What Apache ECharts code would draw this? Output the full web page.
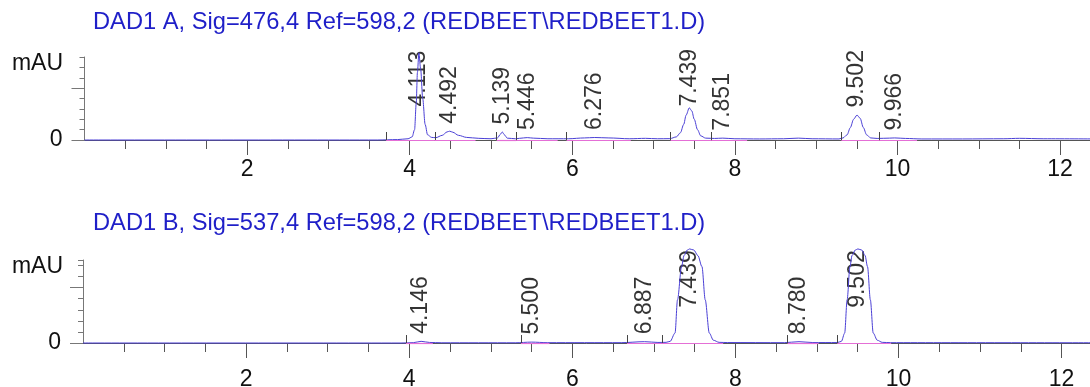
<!DOCTYPE html>
<html>
<head>
<meta charset="utf-8">
<script src="https://cdn.jsdelivr.net/npm/echarts@6/dist/echarts.min.js"></script>
<style>
  html, body { margin: 0; padding: 0; background: #ffffff; }
  #chart { width: 1090px; height: 387px; }
</style>
</head>
<body>
<div id="chart"></div>
<script>
// ---- signal titles and axis texts ----
const titleA = 'DAD1 A, Sig=476,4 Ref=598,2 (REDBEET\\REDBEET1.D)';
const titleB = 'DAD1 B, Sig=537,4 Ref=598,2 (REDBEET\\REDBEET1.D)';
const unitLabel = 'mAU';
const timeTickLabels = [2, 4, 6, 8, 10, 12];
const unitTickLabels = [0];

// ---- DAD1 A (476 nm): trace as [time min, mAU] ----
const traceA = [
  [0, 0], [3.6, 0], [3.85, 0.4], [3.98, 1.2], [4.03, 3], [4.06, 10], [4.08, 35],
  [4.095, 65], [4.113, 84], [4.135, 68], [4.16, 40], [4.19, 15], [4.22, 5],
  [4.27, 2.5], [4.32, 2.2], [4.4, 4.5], [4.46, 7.8], [4.492, 8.5], [4.53, 7.5],
  [4.6, 4.5], [4.7, 2.5], [4.85, 1.6], [5.0, 1.2], [5.08, 2], [5.115, 5.5],
  [5.139, 7.7], [5.165, 5], [5.2, 1.8], [5.3, 1.2], [5.4, 2], [5.446, 2.3],
  [5.52, 1.8], [5.7, 1.2], [5.95, 1.2], [6.15, 2], [6.276, 2.4], [6.45, 2],
  [6.7, 1.2], [6.9, 1.6], [7.05, 1.2], [7.2, 1.3], [7.28, 3], [7.33, 7],
  [7.37, 15], [7.40, 24], [7.439, 31], [7.47, 28], [7.50, 20], [7.54, 10],
  [7.58, 4], [7.64, 1.8], [7.75, 1.5], [7.851, 1.8], [8.0, 1.2], [8.3, 1.0],
  [8.6, 1.2], [8.78, 1.8], [8.95, 1.2], [9.28, 1], [9.33, 2], [9.38, 5],
  [9.42, 12], [9.46, 20], [9.502, 24], [9.54, 21], [9.58, 12], [9.62, 5],
  [9.67, 2], [9.75, 1.5], [9.9, 1.8], [9.966, 2], [10.1, 1.5], [10.3, 1.0],
  [10.8, 1.0], [11.3, 1.2], [11.5, 1.6], [11.8, 1.2], [12.5, 1.0]
];
const peaksA_rt     = [4.113, 4.492, 5.139, 5.446, 6.276, 7.439, 7.851, 9.502, 9.966];
const peaksA_height = [84, 8.5, 7.7, 2.3, 2.4, 31, 1.8, 24, 2];
const peaksA_start  = [3.71, 4.31, 5.07, 5.31, 5.93, 7.21, 7.71, 9.31, 9.78];
const peaksA_end    = [4.31, 4.81, 5.31, 5.82, 6.72, 7.71, 8.15, 9.78, 10.24];

// ---- DAD1 B (537 nm): trace as [time min, mAU] ----
const traceB = [
  [0, 0], [3.9, 0], [4.05, 0.3], [4.146, 1.5], [4.25, 0.5], [4.4, 0.2],
  [5.3, 0.2], [5.5, 0.8], [5.7, 0.3], [6.6, 0.3], [6.887, 1.2], [7.05, 0.5],
  [7.15, 0.6], [7.2, 1.5], [7.26, 9], [7.29, 39], [7.34, 69], [7.37, 79],
  [7.41, 84], [7.439, 85], [7.49, 84], [7.54, 79], [7.59, 69], [7.63, 39],
  [7.68, 9], [7.73, 2.5], [7.8, 0.6], [7.9, 0.4], [8.6, 0.3], [8.78, 1.2],
  [8.95, 0.4], [9.25, 0.4], [9.3, 1.5], [9.34, 9], [9.37, 39], [9.405, 69],
  [9.43, 79], [9.47, 84], [9.502, 85], [9.55, 84], [9.59, 79], [9.62, 69],
  [9.655, 39], [9.69, 9], [9.74, 2.5], [9.8, 0.6], [9.9, 0.3], [12.5, 0.2]
];
const peaksB_rt     = [4.146, 5.500, 6.887, 7.439, 8.780, 9.502];
const peaksB_height = [1.5, 0.8, 1.2, 85, 1.2, 85];
const peaksB_start  = [3.96, 5.37, 6.67, 7.10, 8.64, 9.25];
const peaksB_end    = [4.29, 5.72, 7.10, 7.85, 9.02, 9.91];

// ---- styling ----
const FONT = '"Liberation Sans", Arial, Helvetica, sans-serif';
const TRACE_COLOR = '#4a3fd6';
const BASE_COLOR = '#e46fd6';
const AXIS_COLOR = '#555555';
const TITLE_COLOR = '#1f1fc8';
const LABEL_CAP = 25;   // retention-time labels of tall peaks stop at this height
const X_MAX = 12.5;

const panels = [
  { trace: traceA, rt: peaksA_rt, h: peaksA_height, s: peaksA_start, e: peaksA_end,
    grid: { left: 84.5, width: X_MAX * 81.3, top: 57, height: 83, outerBoundsMode: 'none' },
    yMax: 80, xOffset: 4, labelMargin: 14, tickUp: 7.7, tickDown: 4.8 },
  { trace: traceB, rt: peaksB_rt, h: peaksB_height, s: peaksB_start, e: peaksB_end,
    grid: { left: 83, width: X_MAX * 81.55, top: 260, height: 83, outerBoundsMode: 'none' },
    yMax: 75, xOffset: 3, labelMargin: 22, tickUp: 7.2, tickDown: 4.5 }
];

const halfSteps = [];
for (let k = 1; k <= 25; k++) halfSteps.push(k * 0.5);

const grid = [], xAxis = [], yAxis = [], series = [];

panels.forEach((p, i) => {
  grid.push(p.grid);
  const xBase = { type: 'value', gridIndex: i, min: 0, max: X_MAX, position: 'bottom',
                  offset: p.xOffset, splitLine: { show: false } };
  // short ticks every 0.5 min, carries the axis line
  xAxis.push(Object.assign({}, xBase, {
    interval: 0.5,
    axisLine: { show: true, lineStyle: { color: AXIS_COLOR, width: 1 } },
    axisTick: { show: true, length: 9, customValues: halfSteps, lineStyle: { color: AXIS_COLOR } },
    axisLabel: { show: false }
  }));
  // long ticks and labels every 2 min
  xAxis.push(Object.assign({}, xBase, {
    interval: 2,
    axisLine: { show: false },
    axisTick: { show: true, length: 15, customValues: timeTickLabels, lineStyle: { color: AXIS_COLOR } },
    axisLabel: { show: true, customValues: timeTickLabels, margin: p.labelMargin,
                 fontSize: 23, fontFamily: FONT, color: '#111' }
  }));
  const yBase = { type: 'value', gridIndex: i, min: 0, max: p.yMax, position: 'left',
                  splitLine: { show: false } };
  yAxis.push(Object.assign({}, yBase, {
    interval: 10,
    axisLine: { show: true, lineStyle: { color: '#777', width: 1 } },
    axisTick: { show: true, length: 5, lineStyle: { color: '#777' } },
    axisLabel: { show: true, customValues: unitTickLabels, margin: 22,
                 fontSize: 23, fontFamily: FONT, color: '#111' }
  }));
  yAxis.push(Object.assign({}, yBase, {
    interval: 50,
    axisLine: { show: false },
    axisTick: { show: true, length: 13, customValues: [0, 50], lineStyle: { color: '#777' } },
    axisLabel: { show: false }
  }));

  // integration baseline segments and start / end tick marks
  const marks = [];
  p.s.forEach((s, k) => {
    marks.push([{ coord: [s, 0], lineStyle: { color: BASE_COLOR, width: 1.2, type: 'solid' } },
                { coord: [p.e[k], 0] }]);
  });
  p.s.forEach(s => {
    marks.push([{ coord: [s, 0], lineStyle: { color: '#444', width: 1, type: 'solid' } },
                { coord: [s, p.tickUp] }]);
  });
  p.e.forEach(e => {
    marks.push([{ coord: [e, 0], lineStyle: { color: '#444', width: 1, type: 'solid' } },
                { coord: [e, -p.tickDown] }]);
  });

  series.push({
    type: 'line', xAxisIndex: 2 * i, yAxisIndex: 2 * i, data: p.trace,
    showSymbol: false, smooth: 0.3, smoothMonotone: 'x', clip: false,
    lineStyle: { color: TRACE_COLOR, width: 1 },
    markLine: { silent: true, symbol: ['none', 'none'], label: { show: false },
                lineStyle: { type: 'solid' }, animation: false, data: marks }
  });

  // retention-time labels above each peak
  series.push({
    type: 'scatter', xAxisIndex: 2 * i, yAxisIndex: 2 * i, clip: false, silent: true,
    symbolSize: 1, itemStyle: { color: 'rgba(0,0,0,0)' },
    data: p.rt.map((rt, k) => [rt, Math.min(p.h[k], LABEL_CAP)]),
    label: { show: true, position: 'top', distance: 7, rotate: 90,
             align: 'left', verticalAlign: 'middle',
             formatter: d => d.value[0].toFixed(3),
             fontSize: 23, fontFamily: FONT, color: '#000' }
  });
});

const chart = echarts.init(document.getElementById('chart'), null, { renderer: 'canvas' });
chart.setOption({
  animation: false,
  backgroundColor: '#ffffff',
  grid, xAxis, yAxis, series,
  graphic: [
    { type: 'text', left: 93, top: 10, style: { text: titleA, font: '23.7px ' + FONT, fill: TITLE_COLOR } },
    { type: 'text', left: 93, top: 211, style: { text: titleB, font: '23.7px ' + FONT, fill: TITLE_COLOR } },
    { type: 'text', right: 1027, top: 52, style: { text: unitLabel, font: '23px ' + FONT, fill: '#111' } },
    { type: 'text', right: 1027, top: 255, style: { text: unitLabel, font: '23px ' + FONT, fill: '#111' } }
  ]
});
</script>
</body>
</html>
